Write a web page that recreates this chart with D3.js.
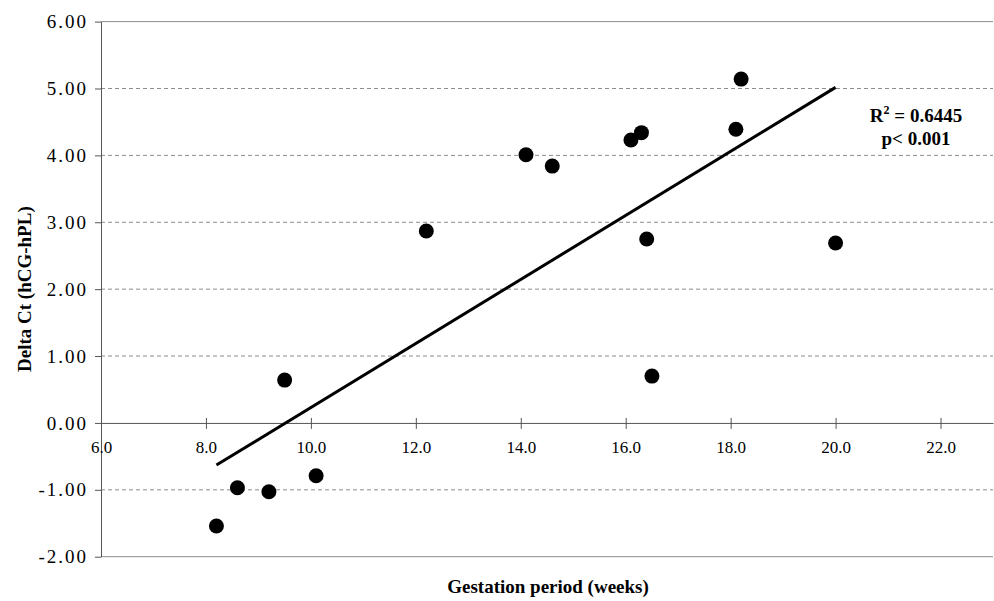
<!DOCTYPE html>
<html>
<head>
<meta charset="utf-8">
<script src="https://cdn.jsdelivr.net/npm/d3@7"></script>
<style>
  body { margin: 0; background: #fff; }
</style>
</head>
<body>
<div id="chart"></div>
<script>
// Gestation period vs delta Ct scatter with linear trend

const weeks   = [8.2, 8.6, 9.2, 9.5, 10.1, 12.2, 14.1, 14.6, 16.1, 16.3, 16.4, 16.5, 18.1, 18.2, 20.0];
const deltaCt = [-1.54, -0.97, -1.03, 0.64, -0.79, 2.87, 4.01, 3.84, 4.23, 4.34, 2.75, 0.70, 4.39, 5.14, 2.69];
const xTicks  = [6, 8, 10, 12, 14, 16, 18, 20, 22];
const yTicks  = [-2, -1, 0, 1, 2, 3, 4, 5, 6];
const statLines = ["= 0.6445", "p< 0.001"];

const FONT = "'Liberation Serif', 'Times New Roman', serif";
const W = 994, H = 601;
const margin = { top: 21.6, right: 1, bottom: 44.3, left: 101 };

const svg = d3.select("#chart").append("svg")
  .attr("width", W)
  .attr("height", H)
  .attr("font-family", FONT);

const x = d3.scaleLinear().domain([6, 23]).range([margin.left, W - margin.right]);
const y = d3.scaleLinear().domain([-2, 6]).range([H - margin.bottom, margin.top]);

// gridlines
svg.append("g")
  .selectAll("line")
  .data(yTicks.filter(d => d !== 0))
  .join("line")
  .attr("x1", margin.left)
  .attr("x2", W - margin.right)
  .attr("y1", d => y(d))
  .attr("y2", d => y(d))
  .attr("stroke", "#8c8c8c")
  .attr("stroke-width", 1)
  .attr("stroke-dasharray", d => (d === 6 || d === -2) ? null : "4,3");

// y axis
const yAxis = svg.append("g")
  .attr("transform", `translate(${margin.left},0)`)
  .call(d3.axisLeft(y).tickValues(yTicks).tickSize(6).tickSizeOuter(0)
    .tickFormat(d => d.toFixed(2)))
  .attr("font-family", FONT)
  .attr("font-size", 19);
yAxis.select(".domain").attr("stroke", "#555");
yAxis.selectAll(".tick line").attr("stroke", "#555");
yAxis.selectAll(".tick text")
  .attr("x", -13)
  .attr("letter-spacing", "2px")
  .attr("fill", "#000");

// x axis at y = 0
const xAxis = svg.append("g")
  .attr("transform", `translate(0,${y(0)})`)
  .call(d3.axisBottom(x).tickValues(xTicks).tickSize(6).tickSizeOuter(0)
    .tickFormat(d => d.toFixed(1)))
  .attr("font-family", FONT)
  .attr("font-size", 17);
xAxis.select(".domain").attr("stroke", "#555");
xAxis.selectAll(".tick line").attr("y1", -5).attr("stroke", "#555");
xAxis.selectAll(".tick text").attr("y", 18).attr("fill", "#000");

// least squares trend
const n = weeks.length;
const mx = d3.mean(weeks), my = d3.mean(deltaCt);
let sxy = 0, sxx = 0;
for (let i = 0; i < n; i++) {
  sxy += (weeks[i] - mx) * (deltaCt[i] - my);
  sxx += (weeks[i] - mx) ** 2;
}
const slope = sxy / sxx, icpt = my - slope * mx;
const xMin = d3.min(weeks), xMax = d3.max(weeks);

svg.append("line")
  .attr("x1", x(xMin)).attr("y1", y(icpt + slope * xMin))
  .attr("x2", x(xMax)).attr("y2", y(icpt + slope * xMax))
  .attr("stroke", "#000")
  .attr("stroke-width", 3);

// points
svg.append("g")
  .selectAll("circle")
  .data(weeks.map((w, i) => [w, deltaCt[i]]))
  .join("circle")
  .attr("cx", d => x(d[0]))
  .attr("cy", d => y(d[1]))
  .attr("r", 7.5)
  .attr("fill", "#000");

// R2 / p annotation
const stat = svg.append("text")
  .attr("x", 916)
  .attr("y", 122)
  .attr("text-anchor", "middle")
  .attr("font-size", "19px")
  .attr("font-weight", "bold");
stat.append("tspan").text("R");
stat.append("tspan").attr("dy", -8).attr("font-size", "12px").text("2");
stat.append("tspan").attr("dy", 8).text(" " + statLines[0]);

svg.append("text")
  .attr("x", 916)
  .attr("y", 145)
  .attr("text-anchor", "middle")
  .attr("font-size", "19px")
  .attr("font-weight", "bold")
  .text(statLines[1]);

// axis titles
svg.append("text")
  .attr("x", 548)
  .attr("y", 593)
  .attr("text-anchor", "middle")
  .attr("font-size", "19px")
  .attr("font-weight", "bold")
  .text("Gestation period (weeks)");

svg.append("text")
  .attr("transform", `translate(31,${(y(6) + y(-2)) / 2}) rotate(-90)`)
  .attr("text-anchor", "middle")
  .attr("font-size", "19px")
  .attr("font-weight", "bold")
  .text("Delta Ct (hCG-hPL)");
</script>
</body>
</html>
